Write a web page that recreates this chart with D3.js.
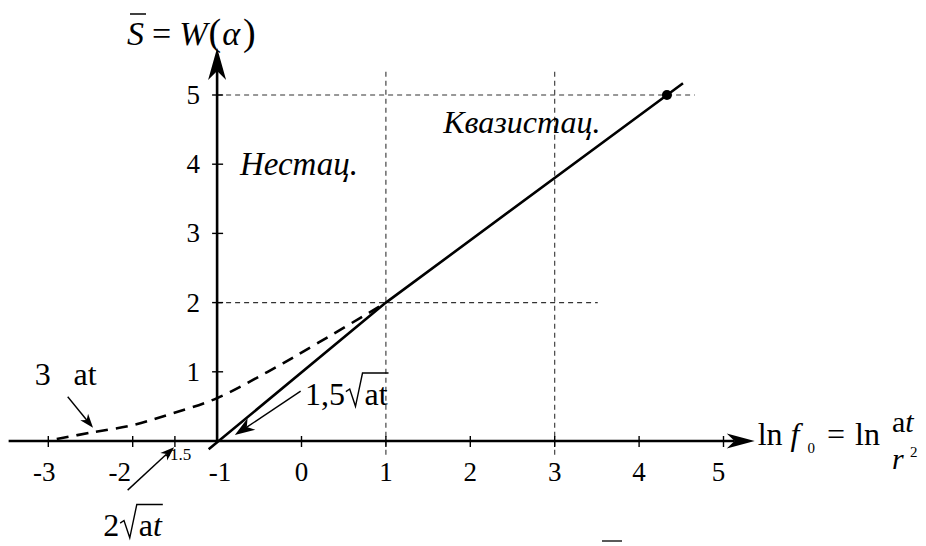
<!DOCTYPE html>
<html><head><meta charset="utf-8">
<script src="https://cdn.jsdelivr.net/npm/d3@7"></script>
<style>
body{margin:0;background:#fff}
svg{display:block}
</style>
</head><body>
<svg id="c" width="926" height="546"></svg>
<script>
// ---------- data ----------
const xTickValues = [-3, -2, -1, 0, 1, 2, 3, 4, 5];
const xTickLabels = ["-3", "-2", "-1", "0", "1", "2", "3", "4", "5"];
const xMinorTick = [-1.5];
const xMinorLabel = ["-1.5"];
const yTickValues = [1, 2, 3, 4, 5];
const yTickLabels = ["1", "2", "3", "4", "5"];
// solid line (quasi-stationary)
const solidX = [-1.1, 1, 4.52];
const solidY = [-0.12, 2, 5.17];
// dashed curve (non-stationary)
const dashedX = [-2.9, -2.5, -2.0, -1.55, -1, -0.4, 0.2, 1];
const dashedY = [0.03, 0.12, 0.23, 0.39, 0.62, 1.0, 1.42, 2];
// marked point
const markerX = [4.33];
const markerY = [5];
// dashed guide lines
const guideHY = [5, 2];
const guideHEnd = [4.66, 3.51];
const guideVX = [1, 3];
const guideVTop = [5.39, 5.39];
const guideVBottom = [-0.2, -0.2];
// axis extents (data units)
const xAxisExtent = [-3.47, 5.37];
const yAxisExtent = [0, 5.68];

// ---------- layout ----------
const FONT = "Liberation Serif";
const svg = d3.select("#c");
const x = d3.scaleLinear().domain([-3, 5]).range([48.3, 723.5]);
const y = d3.scaleLinear().domain([0, 5]).range([441, 95]);
const x0 = x(-1), y0 = y(0);
const labelShift = {"-3": -4, "-2": -13, "-1": 3, "5": -5};

function txt(tx, ty, s, size, italic) {
  return svg.append("text").attr("x", tx).attr("y", ty).attr("font-family", FONT)
    .attr("font-size", size).attr("font-style", italic ? "italic" : "normal").attr("fill", "#000").text(s);
}

function stealth(x1, y1, x2, y2, L, W, width) {
  const d = Math.hypot(x2 - x1, y2 - y1), ux = (x2 - x1) / d, uy = (y2 - y1) / d;
  const px = -uy, py = ux;
  const bx = x2 - L * ux, by = y2 - L * uy;
  const nx = x2 - L * 0.72 * ux, ny = y2 - L * 0.72 * uy;
  svg.append("line").attr("x1", x1).attr("y1", y1).attr("x2", nx).attr("y2", ny)
    .attr("stroke", "#000").attr("stroke-width", width);
  svg.append("path")
    .attr("d", `M${x2},${y2}L${bx + W * px},${by + W * py}L${nx},${ny}L${bx - W * px},${by - W * py}Z`)
    .attr("fill", "#000");
}

function seq(sx, sy, pieces) {
  let cx = sx; const out = [];
  pieces.forEach(p => {
    cx += (p.dx || 0);
    const t = txt(cx, sy + (p.dy || 0), p.t, p.size, p.italic);
    const w = t.node().getComputedTextLength();
    out.push({x0: cx, x1: cx + w});
    cx += w;
  });
  return out;
}

function radical(rx, baseY, s, pieces) {
  const top = baseY - 1.0 * s;
  const startX = rx + 0.58 * s;
  const parts = seq(startX, baseY, pieces);
  const endX = parts[parts.length - 1].x1 + 1;
  svg.append("path")
    .attr("d", `M${rx},${baseY - 0.42 * s}L${rx + 0.12 * s},${baseY - 0.5 * s}L${rx + 0.3 * s},${baseY + 0.04 * s}L${rx + 0.52 * s},${top}L${endX},${top}`)
    .attr("fill", "none").attr("stroke", "#000").attr("stroke-width", 1.4).attr("stroke-linejoin", "miter");
}

// ---------- guide lines ----------
guideHY.forEach((v, i) => {
  svg.append("line").attr("x1", x0).attr("x2", x(guideHEnd[i])).attr("y1", y(v)).attr("y2", y(v))
    .attr("stroke", "#333").attr("stroke-width", 1.1).attr("stroke-dasharray", "5,4");
});
guideVX.forEach((v, i) => {
  svg.append("line").attr("x1", x(v)).attr("x2", x(v)).attr("y1", y(guideVBottom[i])).attr("y2", y(guideVTop[i]))
    .attr("stroke", "#333").attr("stroke-width", 1.1).attr("stroke-dasharray", "5,4");
});

// ---------- axes ----------
stealth(x(xAxisExtent[0]), y0, x(xAxisExtent[1]), y0, 28, 7.5, 2.4);
stealth(x0, y0, x0, y(yAxisExtent[1]), 32, 9, 2.6);

xTickValues.concat(xMinorTick).forEach(v => {
  if (v === -1) return;
  svg.append("line").attr("x1", x(v)).attr("x2", x(v)).attr("y1", y0 - 5).attr("y2", y0 + 6)
    .attr("stroke", "#000").attr("stroke-width", 1.4);
});
yTickValues.forEach(v => {
  svg.append("line").attr("x1", x0 - 5).attr("x2", x0 + 6).attr("y1", y(v)).attr("y2", y(v))
    .attr("stroke", "#000").attr("stroke-width", 1.4);
});
xTickValues.forEach((v, i) => {
  txt(x(v) + (labelShift[xTickLabels[i]] || 0), y0 + 40, xTickLabels[i], 27).attr("text-anchor", "middle");
});
xMinorTick.forEach((v, i) => {
  txt(x(v) + 3, y0 + 19, xMinorLabel[i], 17).attr("text-anchor", "middle");
});
yTickValues.forEach((v, i) => {
  txt(x0 - 17, y(v) + 9, yTickLabels[i], 27).attr("text-anchor", "end");
});

// ---------- curves ----------
const dashedPts = dashedX.map((v, i) => [x(v), y(dashedY[i])]);
svg.append("path").attr("d", d3.line().curve(d3.curveCatmullRom)(dashedPts))
  .attr("fill", "none").attr("stroke", "#000").attr("stroke-width", 2.6).attr("stroke-dasharray", "12,8");
const solidPts = solidX.map((v, i) => [x(v), y(solidY[i])]);
svg.append("path").attr("d", d3.line()(solidPts))
  .attr("fill", "none").attr("stroke", "#000").attr("stroke-width", 2.6);
markerX.forEach((v, i) => {
  svg.append("circle").attr("cx", x(v)).attr("cy", y(markerY[i])).attr("r", 5).attr("fill", "#000");
});

// ---------- axis titles ----------
const yl = seq(127, 45, [
  {t: "S", italic: true, size: 34},
  {t: "=", size: 34, dx: 8},
  {t: "W", italic: true, size: 34, dx: 8},
  {t: "(", size: 38, dx: 1},
  {t: "α", italic: true, size: 34, dx: 1},
  {t: ")", size: 38, dx: 3}
]);
svg.append("line").attr("x1", yl[0].x0 + 3).attr("x2", yl[0].x1 + 2).attr("y1", 14).attr("y2", 14)
  .attr("stroke", "#000").attr("stroke-width", 1.5);

const xl = seq(x(xAxisExtent[1]) + 3, y0 + 4, [
  {t: "ln", size: 32},
  {t: "f", italic: true, size: 32, dx: 8},
  {t: "0", size: 15, dx: 8, dy: 8},
  {t: "=", size: 32, dx: 12},
  {t: "ln", size: 32, dx: 10}
]);
const fx = xl[xl.length - 1].x1 + 12;
seq(fx, y0 - 9, [{t: "a", size: 30}, {t: "t", italic: true, size: 30}]);
seq(fx, y0 + 28, [{t: "r", italic: true, size: 30}]);
seq(fx + 18, y0 + 16, [{t: "2", size: 15}]);

// ---------- region labels ----------
txt(x(-0.73), y(3.85), "Нестац.", 33, true);
txt(x(1.68), y(4.45), "Квазистац.", 32, true);

// ---------- annotations ----------
txt(x(-3.16), y(0.81), "3", 32);
txt(x(-2.7), y(0.81), "at", 32);
stealth(x(-2.77), y(0.64), x(-2.47), y(0.19), 14, 5, 1.4);

const l15 = seq(x(0.04), y(0.52), [{t: "1,5", size: 32}]);
radical(l15[0].x1 + 1, y(0.52), 32, [{t: "at", size: 32}]);
stealth(x(-0.01), y(0.72), x(-0.79), y(0.085), 20, 7, 1.4);

const l2 = seq(x(-2.35), y(-1.38), [{t: "2", size: 32}]);
radical(l2[0].x1 + 1, y(-1.38), 32, [{t: "a", size: 32}, {t: "t", italic: true, size: 32}]);
stealth(x(-2.06), y(-0.71), x(-1.51), y(-0.09), 14, 5, 1.4);

svg.append("line").attr("x1", 602).attr("x2", 622).attr("y1", 541).attr("y2", 541)
  .attr("stroke", "#000").attr("stroke-width", 1.3);
</script>
</body></html>
